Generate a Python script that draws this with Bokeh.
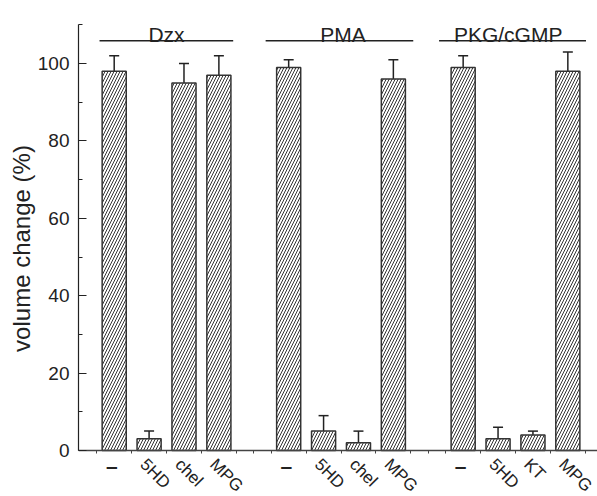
import math
from bokeh.plotting import figure
from bokeh.models import (ColumnDataSource, Whisker, TeeHead, FixedTicker,
                          SingleIntervalTicker)
from bokeh.core.properties import value
from bokeh.embed import file_html
from bokeh.resources import INLINE

# ---- data ----
groups = ["Dzx", "PMA", "PKG/cGMP"]
treatments = [["–", "5HD", "chel", "MPG"],
              ["–", "5HD", "chel", "MPG"],
              ["–", "5HD", "KT", "MPG"]]
means = [[98, 3, 95, 97],
         [99, 5, 2, 96],
         [99, 3, 4, 98]]
errors = [[4, 2, 5, 5],
          [2, 4, 3, 5],
          [3, 3, 1, 5]]
y_ticks = [0, 20, 40, 60, 80, 100]

FONT = "Liberation Sans"
INK = "#222222"

# slot layout: 4 bars per group, one empty slot between groups
xs, tops, errs, labels = [], [], [], []
for g in range(len(groups)):
    for j in range(len(treatments[g])):
        xs.append(g * 5 + j)
        tops.append(means[g][j])
        errs.append(errors[g][j])
        labels.append(treatments[g][j])
uppers = [t + e for t, e in zip(tops, errs)]

src = ColumnDataSource(dict(x=xs, top=tops, upper=uppers))

p = figure(width=597, height=496, output_backend="svg", toolbar_location=None,
           x_range=(-1.023, 13.85), y_range=(-11.9, 116.3),
           min_border_left=78, min_border_bottom=0, min_border_top=0, min_border_right=0)
p.outline_line_color = None
p.xgrid.grid_line_color = None
p.ygrid.grid_line_color = None
p.background_fill_color = "white"
p.border_fill_color = "white"

# bars
p.vbar(x="x", top="top", bottom=0, width=0.69, source=src,
       fill_color="white", line_color="#333333", line_width=1.5,
       hatch_pattern="right_diagonal_line", hatch_scale=6, hatch_weight=1,
       hatch_color="#333333")

# error bars (upper only)
w = Whisker(base="x", lower="top", upper="upper", source=src,
            upper_head=TeeHead(size=10, line_color=INK, line_width=1.5),
            lower_head=None, line_color=INK, line_width=1.5)
p.add_layout(w)

# group headers
hdr_x0 = [-0.42, 4.34, 9.31]
hdr_x1 = [3.41, 8.57, 13.52]
hdr_lx = [1.5, 6.56, 11.29]
p.segment(x0=hdr_x0, x1=hdr_x1, y0=[105.9] * 3, y1=[105.9] * 3,
          line_color=INK, line_width=1.5)
p.text(x=hdr_lx, y=[107.6] * 3, text=groups, text_align="center",
       text_baseline="alphabetic", text_font=value(FONT), text_font_size="21px",
       text_color=INK)

# y axis
ya = p.yaxis[0]
ya.ticker = SingleIntervalTicker(interval=20, num_minor_ticks=2)
ya.bounds = (0, 110)
ya.major_tick_in = 8
ya.major_tick_out = 0
ya.minor_tick_in = 4
ya.minor_tick_out = 0
ya.major_label_standoff = 9
ya.major_label_text_font = FONT
ya.major_label_text_font_size = "19px"
ya.major_label_text_color = INK
ya.axis_line_color = INK
ya.axis_line_width = 1.2
ya.major_tick_line_color = INK
ya.minor_tick_line_color = INK
ya.major_tick_line_width = 1.2
ya.axis_label = "volume change (%)"
ya.axis_label_text_font = FONT
ya.axis_label_text_font_size = "24px"
ya.axis_label_text_font_style = "normal"
ya.axis_label_text_color = INK
ya.axis_label_standoff = 0

# x axis at y = 0: ticks between slots, labels drawn separately
xa = p.xaxis[0]
xa.fixed_location = 0
bounds_ticks = [i - 0.5 for i in range(15)] + [4, 9]
xa.ticker = FixedTicker(ticks=bounds_ticks, minor_ticks=[])
xa.major_label_overrides = {t: "" for t in bounds_ticks}
xa.major_tick_in = 0
xa.major_tick_out = 3
xa.axis_line_color = "#444444"
xa.axis_line_width = 1.5
xa.major_tick_line_color = "#444444"

# category labels under the axis
dash_idx = [i for i, l in enumerate(labels) if l == "–"]
name_idx = [i for i, l in enumerate(labels) if l != "–"]
p.text(x=[xs[i] - 0.07 for i in dash_idx], y=[-3.8] * len(dash_idx),
       text=[labels[i] for i in dash_idx], text_align="center", text_baseline="middle",
       text_font=value(FONT), text_font_size="21px", text_font_style="bold",
       text_color=INK)
p.text(x=[xs[i] - 0.17 for i in name_idx], y=[-2.9] * len(name_idx),
       text=[labels[i] for i in name_idx], angle=-math.pi / 4,
       text_align="left", text_baseline="middle",
       text_font=value(FONT), text_font_size="17px", text_color=INK)

open("out.html", "w").write(file_html(p, INLINE))
